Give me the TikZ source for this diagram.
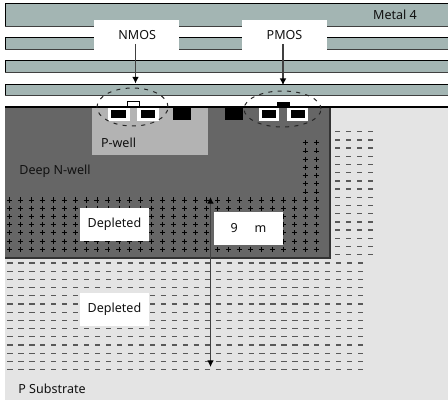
\documentclass[tikz,border=0pt]{standalone}
\usepackage{fontspec}
\setmainfont{Noto Sans}
\usetikzlibrary{shapes.geometric,arrows.meta}
\definecolor{metal}{HTML}{A3B5B3}
\definecolor{sub}{HTML}{E4E4E4}
\definecolor{well}{HTML}{666666}
\definecolor{pw}{HTML}{B3B3B3}
\definecolor{edge}{HTML}{404040}
\definecolor{txt}{HTML}{111111}
\tikzset{
 x=0.75pt,y=-0.75pt,
 lbl/.style={font=\fontsize{9.4}{11}\selectfont,text=txt,inner sep=0pt},
 whitebox/.style={fill=white,draw=none,inner sep=0pt,lbl,minimum height=#1*0.75pt},
 whitebox/.default=33,
 callout/.style={whitebox=31,minimum width=63.75pt},
 depl/.style={whitebox=33,minimum width=51.75pt},
 cont/.style={fill=white,draw=none},
 blk/.style={fill=black,draw=none},
 dashell/.style={ellipse,draw=black!85,line width=0.75pt,dash pattern=on 3pt off 4pt,inner sep=0pt},
 lead/.style={draw=edge,line width=0.8pt,-{Latex[length=5pt,width=5pt,color=black]}},
 span/.style={draw=edge,line width=0.8pt,{Latex[length=5pt,width=5pt,color=black]}-{Latex[length=5pt,width=5pt,color=black]}},
 dashmark/.style={draw=black!65,line width=0.95pt},
 plusmark/.style={draw=black,line width=0.55pt},
}
\newcommand{\plusat}[2]{\draw[plusmark] (#1-2.5,#2) -- (#1+2.5,#2) (#1,#2-2.5) -- (#1,#2+2.5);}
\newcommand{\minusat}[2]{\draw[dashmark] (#1-2.6,#2) -- (#1+2.6,#2);}
\begin{document}
\begin{tikzpicture}
\useasboundingbox (0,0) rectangle (448,402);
\fill[white] (0,0) rectangle (448,402);
% metal bars
\foreach \t/\b in {3.5/26.5,38/50,61/73,84.5/96}{
  \fill[metal] (5,\t) rectangle (448,\b);
  \draw[black,line width=0.75pt] (5,\b) -- (5,\t) -- (448,\t);
  \draw[edge,line width=0.75pt] (5,\b) -- (448,\b);
}
% substrate
\fill[sub] (5,107) rectangle (448,400);
% deep n-well
\fill[well] (5,107) rectangle (330,258);
\draw[black!80,line width=0.9pt] (5,258) -- (330,258) -- (330,107);
\fill[pw] (92,107) rectangle (208,155);
\draw[black,line width=1.2pt] (5,107) -- (448,107);
% plus charges
\foreach \r in {0,...,6}{
 \foreach \c in {0,...,28}{
  \pgfmathsetmacro{\px}{9.3+10.96*\c}
  \pgfmathsetmacro{\py}{200+8.2*\r}
  \plusat{\px}{\py}
 }
}
\foreach \r in {0,...,6}{
 \foreach \px in {305,316.3}{
  \pgfmathsetmacro{\py}{142.7+8.2*\r}
  \plusat{\px}{\py}
 }
}
% minus charges, right of the well
\foreach \r in {0,...,15}{
 \foreach \px in {337.7,348.7,359.7,370.7}{
  \pgfmathsetmacro{\py}{131.7+8.2*\r}
  \minusat{\px}{\py}
 }
}
% minus charges, below the well
\foreach \r in {0,...,13}{
 \foreach \c in {0,...,32}{
  \pgfmathsetmacro{\px}{10+10.96*\c}
  \pgfmathsetmacro{\py}{263+8.2*\r}
  \minusat{\px}{\py}
 }
}
% NMOS devices
\fill[cont] (108,107.8) rectangle (130,121);
\fill[black] (111,110) rectangle (126,118);
\fill[cont] (137,107.8) rectangle (159,121);
\fill[black] (141,110) rectangle (155,118);
\draw[fill=white,draw=black,line width=0.75pt] (127.5,101.5) rectangle (139,107);
\fill[blk] (173,107) rectangle (191,120);
% PMOS devices
\fill[blk] (225,107) rectangle (243,120);
\fill[cont] (259,107.8) rectangle (279,121);
\fill[black] (262,110) rectangle (276,118);
\fill[cont] (287,107.8) rectangle (308,121);
\fill[black] (291,110) rectangle (305,118);
\fill[blk] (277,102) rectangle (290,107);
% ellipses
\node[dashell,minimum width=53.25pt,minimum height=28.5pt] (nell) at (132.5,107) {};
\node[dashell,minimum width=57.75pt,minimum height=27pt] (pell) at (282.5,109) {};
% callouts
\node[callout] (nmos) at (136.5,35.5) {\hspace{1pt}NMOS};
\node[callout] (pmos) at (284.5,35.5) {PMOS};
\coordinate (nstart) at (135.5,44);
\coordinate (pstart) at (283,44);
\draw[lead,shorten >=3pt] (nstart) -- (nstart |- nell.north);
\draw[lead,shorten >=4pt] (pstart) -- (pstart |- pell.north);
% labels
\node[lbl] (m4) at (395,15) {Metal 4};
\node[lbl] (pwl) at (118.5,143) {P-well};
\node[lbl] (dnw) at (55,171.5) {Deep N-well};
\node[lbl] (psub) at (52,389) {P Substrate};
\node[depl] (d1) at (114.5,224.5) {Depleted};
\node[depl] (d2) at (114.5,309.2) {Depleted};
\node[depl] (nine) at (248.5,228.3) {9\hspace{1.35em}m};
% depth arrow
\coordinate (sTop) at (210.5,197);
\coordinate (sBot) at (210.5,367);
\draw[span] (sTop) -- (sBot);
\end{tikzpicture}
\end{document}
